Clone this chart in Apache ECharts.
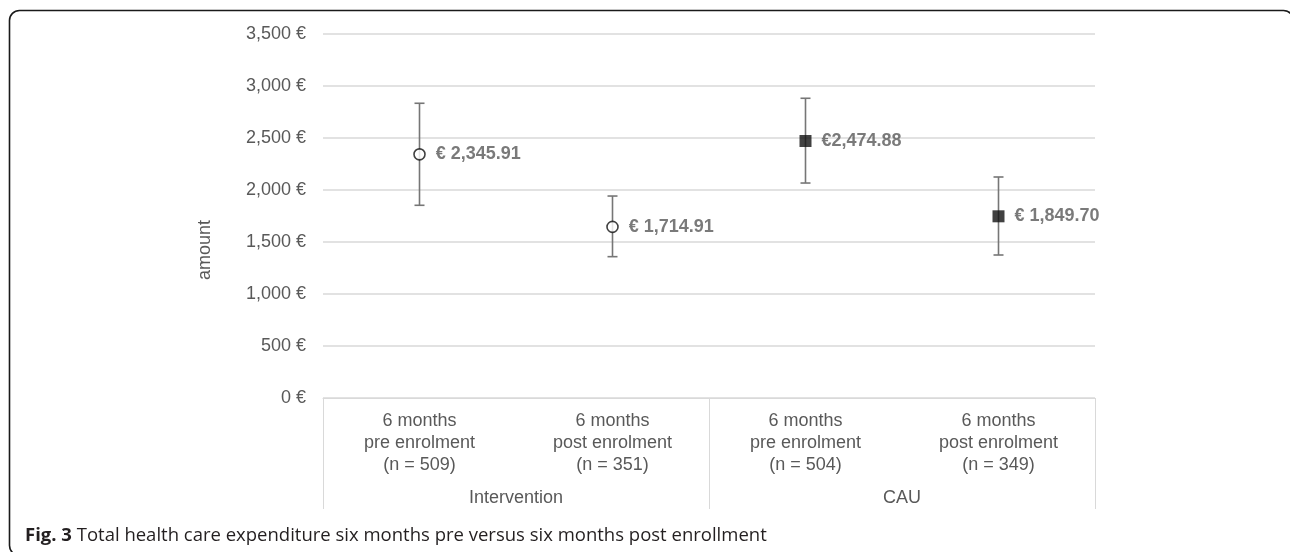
<!DOCTYPE html>
<html>
<head>
<meta charset="utf-8">
<script src="https://cdn.jsdelivr.net/npm/echarts@6/dist/echarts.min.js"></script>
<style>
html,body{margin:0;padding:0;background:#fff;}
#c{width:1290px;height:552px;}
</style>
</head>
<body>
<div id="c"></div>
<script>
// ---- data ----
const categories = [
  "6 months\npre enrolment\n(n = 509)",
  "6 months\npost enrolment\n(n = 351)",
  "6 months\npre enrolment\n(n = 504)",
  "6 months\npost enrolment\n(n = 349)"
];
const groups = ["Intervention", "CAU"];
const meanValues = [2343, 1645, 2471, 1747];
const upperValues = [2834, 1942, 2882, 2125];
const lowerValues = [1853, 1359, 2067, 1375];
const pointLabels = ["€ 2,345.91", "€ 1,714.91", "€2,474.88", "€ 1,849.70"];
const pointGroup = [0, 0, 1, 1];
const yTicks = { min: 0, max: 3500, interval: 500 };
const captionBold = "Fig. 3";
const captionText = " Total health care expenditure six months pre versus six months post enrollment";
const yName = "amount";

const textColor = "#595959";
const gridColor = "#d9d9d9";
const FONT = "Liberation Sans, Arial, sans-serif";

function fmtEuro(v) {
  return v.toLocaleString("en-US") + " €";
}

const chart = echarts.init(document.getElementById("c"));

const intervData = [], cauData = [];
meanValues.forEach((v, i) => {
  (pointGroup[i] === 0 ? intervData : cauData).push([i, v]);
});
const errData = meanValues.map((v, i) => [i, lowerValues[i], upperValues[i]]);

const labelCfg = {
  show: true,
  position: "right",
  distance: 10,
  color: textColor,
  fontFamily: FONT,
  fontSize: 18,
  fontWeight: "bold",
  formatter: p => pointLabels[p.data[0]]
};

chart.setOption({
  animation: false,
  backgroundColor: "#fff",
  grid: { left: 323, right: 195, top: 34, bottom: 154, containLabel: false },
  xAxis: [
    {
      type: "category",
      data: categories,
      boundaryGap: true,
      axisLine: { show: true, lineStyle: { color: gridColor, width: 1 } },
      axisTick: { show: false },
      axisLabel: {
        color: textColor, fontFamily: FONT, fontSize: 18,
        lineHeight: 22, margin: 12, interval: 0, align: "center"
      },
      splitLine: { show: false }
    },
    {
      type: "category",
      data: groups,
      position: "bottom",
      boundaryGap: true,
      axisLine: { show: false },
      axisTick: { show: true, length: 111, lineStyle: { color: gridColor, width: 1 } },
      axisLabel: {
        color: textColor, fontFamily: FONT, fontSize: 18,
        lineHeight: 22, margin: 89, interval: 0
      },
      splitLine: { show: false }
    }
  ],
  yAxis: {
    type: "value",
    min: yTicks.min, max: yTicks.max, interval: yTicks.interval,
    axisLine: { show: false },
    axisTick: { show: false },
    axisLabel: {
      color: textColor, fontFamily: FONT, fontSize: 18, margin: 17,
      formatter: fmtEuro
    },
    splitLine: { show: true, lineStyle: { color: gridColor, width: 1.5 } }
  },
  series: [
    {
      type: "custom",
      name: "range",
      xAxisIndex: 0,
      data: errData,
      z: 2,
      renderItem: function (params, api) {
        const x = api.coord([api.value(0), 0])[0];
        const lo = api.coord([api.value(0), api.value(1)])[1];
        const hi = api.coord([api.value(0), api.value(2)])[1];
        const cap = 5;
        const st = { stroke: "#767676", lineWidth: 1.6 };
        return {
          type: "group",
          children: [
            { type: "line", shape: { x1: x, y1: lo, x2: x, y2: hi }, style: st },
            { type: "line", shape: { x1: x - cap, y1: hi, x2: x + cap, y2: hi }, style: st },
            { type: "line", shape: { x1: x - cap, y1: lo, x2: x + cap, y2: lo }, style: st }
          ]
        };
      }
    },
    {
      type: "scatter",
      name: groups[0],
      xAxisIndex: 0,
      data: intervData,
      symbol: "circle",
      symbolSize: 11,
      itemStyle: { color: "#fff", borderColor: "#111", borderWidth: 1.6 },
      label: labelCfg,
      z: 3
    },
    {
      type: "scatter",
      name: groups[1],
      xAxisIndex: 0,
      data: cauData,
      symbol: "rect",
      symbolSize: 12,
      itemStyle: { color: "#111" },
      label: labelCfg,
      z: 3
    }
  ],
  graphic: [
    {
      type: "rect",
      shape: { x: 9.5, y: 10.5, width: 1284, height: 545, r: 10 },
      style: { fill: "none", stroke: "#1a1a1a", lineWidth: 1.6 },
      silent: true
    },
    {
      type: "text",
      x: 205, y: 250,
      rotation: Math.PI / 2,
      style: {
        text: yName, fill: textColor, font: "18px " + FONT,
        align: "center", verticalAlign: "middle"
      }
    },
    {
      type: "text",
      x: 25, y: 536,
      style: {
        text: "{b|" + captionBold + "}" + captionText,
        fill: "#231f20",
        fontFamily: "Open Sans",
        fontSize: 18.5,
        verticalAlign: "middle",
        rich: { b: { fontWeight: "bold", fontFamily: "Open Sans", fontSize: 18.5, fill: "#231f20" } }
      }
    }
  ]
});
</script>
</body>
</html>
